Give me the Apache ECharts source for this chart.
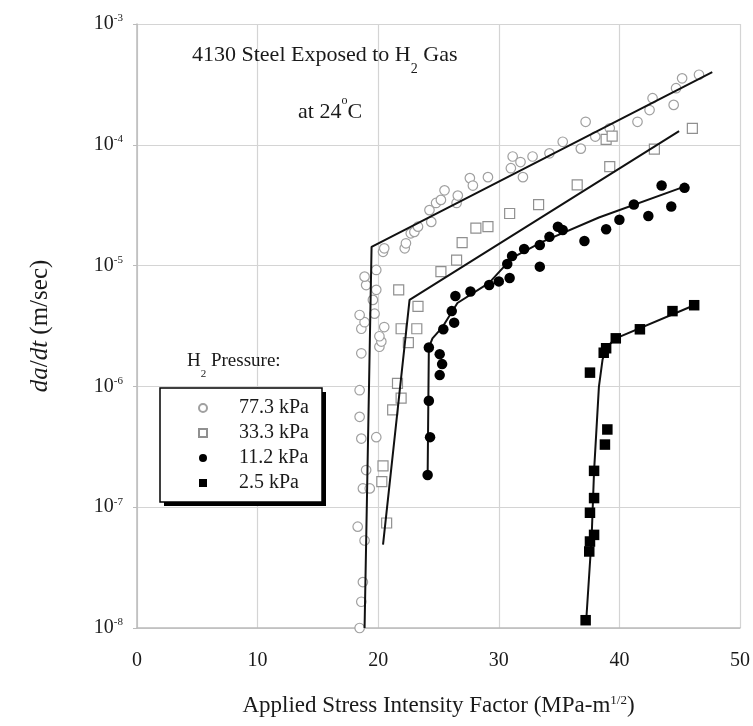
<!DOCTYPE html>
<html><head><meta charset="utf-8">
<script src="https://cdn.jsdelivr.net/npm/echarts@6/dist/echarts.min.js"></script>
<style>html,body{margin:0;padding:0;background:#fff}#c{width:753px;height:726px}</style>
</head><body><div id="c"></div>
<script>
const seriesNames = ['77.3 kPa', '33.3 kPa', '11.2 kPa', '2.5 kPa'];
const xTicks = [0, 10, 20, 30, 40, 50];
const yTickExponents = [-8, -7, -6, -5, -4, -3];

const pts77 = [[18.46,1.0e-8],[18.6,1.65e-8],[18.73,2.4e-8],[18.87,5.3e-8],[18.3,6.9e-8],[18.73,1.43e-7],[19.3,1.43e-7],[19.0,2.03e-7],[18.6,3.7e-7],[19.84,3.8e-7],[18.46,5.6e-7],[18.46,9.3e-7],[18.6,1.88e-6],[18.6,3.0e-6],[18.87,3.4e-6],[18.46,3.9e-6],[19.7,4.0e-6],[20.1,2.13e-6],[20.26,2.35e-6],[20.1,2.6e-6],[20.5,3.1e-6],[19.56,5.2e-6],[19.84,6.3e-6],[19.0,6.9e-6],[18.87,8.1e-6],[19.84,9.2e-6],[20.4,1.3e-5],[20.5,1.39e-5],[22.2,1.39e-5],[22.3,1.53e-5],[22.7,1.85e-5],[23.0,1.9e-5],[23.3,2.1e-5],[24.25,2.88e-5],[24.4,2.3e-5],[24.8,3.3e-5],[25.2,3.5e-5],[25.5,4.2e-5],[26.5,3.3e-5],[26.6,3.8e-5],[27.6,5.3e-5],[27.85,4.6e-5],[29.1,5.4e-5],[31.0,6.4e-5],[31.15,8.0e-5],[31.8,7.2e-5],[32.0,5.4e-5],[32.8,8.0e-5],[34.2,8.5e-5],[35.3,1.06e-4],[36.8,9.3e-5],[37.2,1.55e-4],[38.0,1.17e-4],[39.2,1.37e-4],[41.5,1.55e-4],[42.5,1.94e-4],[42.75,2.43e-4],[44.5,2.14e-4],[44.7,2.94e-4],[45.2,3.55e-4],[46.6,3.8e-4]];
const pts33 = [[20.7,7.4e-8],[20.3,1.63e-7],[20.4,2.2e-7],[21.2,6.4e-7],[21.9,8.0e-7],[21.6,1.06e-6],[22.5,2.3e-6],[21.9,3.0e-6],[23.2,3.0e-6],[23.3,4.6e-6],[21.7,6.3e-6],[25.2,8.9e-6],[26.5,1.11e-5],[26.96,1.55e-5],[28.1,2.04e-5],[29.1,2.1e-5],[30.9,2.7e-5],[33.3,3.2e-5],[36.5,4.65e-5],[39.2,6.6e-5],[38.9,1.11e-4],[39.4,1.18e-4],[42.9,9.2e-5],[46.05,1.37e-4]];
const pts11 = [[24.1,1.85e-7],[24.3,3.8e-7],[24.2,7.6e-7],[24.2,2.1e-6],[25.1,1.85e-6],[25.3,1.53e-6],[25.1,1.24e-6],[25.4,2.97e-6],[26.1,4.2e-6],[26.3,3.37e-6],[26.4,5.6e-6],[27.65,6.1e-6],[29.2,6.9e-6],[30.0,7.4e-6],[30.9,7.9e-6],[30.7,1.03e-5],[31.1,1.2e-5],[32.1,1.37e-5],[33.4,9.8e-6],[33.4,1.48e-5],[34.2,1.73e-5],[34.9,2.1e-5],[35.3,1.97e-5],[37.1,1.6e-5],[38.9,2.0e-5],[40.0,2.4e-5],[41.2,3.2e-5],[42.4,2.57e-5],[43.5,4.6e-5],[44.3,3.08e-5],[45.4,4.4e-5]];
const pts25 = [[37.2,1.16e-8],[37.5,4.3e-8],[37.56,5.2e-8],[37.9,5.9e-8],[37.56,9.0e-8],[37.9,1.19e-7],[37.9,2.0e-7],[38.8,3.3e-7],[39.0,4.4e-7],[37.56,1.3e-6],[38.7,1.9e-6],[38.9,2.07e-6],[39.7,2.5e-6],[41.7,2.97e-6],[44.4,4.2e-6],[46.2,4.7e-6]];

const fit77 = [[18.87,1e-8],[19.45,1.43e-5],[47.7,4.0e-4]];
const fit33 = [[20.4,4.9e-8],[22.6,5.2e-6],[44.95,1.3e-4]];
const fit11 = [[24.1,1.85e-7],[24.2,2.1e-6],[24.5,2.5e-6],[25.33,3.1e-6],[26.57,4.9e-6],[29.2,7.2e-6],[31.1,1.16e-5],[33.6,1.57e-5],[38.3,2.5e-5],[45.1,4.4e-5]];
const fit25 = [[37.25,1.16e-8],[37.7,5.7e-8],[37.9,2.0e-7],[38.3,9.9e-7],[38.6,1.66e-6],[38.9,2.09e-6],[39.7,2.5e-6],[46.2,4.7e-6]];

const FONT = '"Liberation Serif", "DejaVu Serif", serif';
const INK = '#1a1a1a';
const chart = echarts.init(document.getElementById('c'));

function fitSeries(data) {
  return { type: 'line', data: data, symbol: 'none', silent: true, z: 3,
    lineStyle: { color: '#111', width: 2 } };
}

const option = {
  backgroundColor: '#fff',
  animation: false,
  textStyle: { fontFamily: FONT },
  grid: { left: 137, right: 12, top: 24, bottom: 98 },
  xAxis: {
    type: 'value', min: xTicks[0], max: xTicks[xTicks.length - 1], interval: 10,
    name: 'Applied Stress Intensity Factor (MPa-m{s|1/2})',
    nameLocation: 'middle', nameGap: 66,
    nameTextStyle: { fontFamily: FONT, fontSize: 23, color: INK,
      rich: { s: { fontFamily: FONT, fontSize: 13, verticalAlign: 'top', lineHeight: 14, color: INK } } },
    axisLine: { show: true, lineStyle: { color: '#bbb', width: 1.5 } },
    axisTick: { show: false },
    axisLabel: { fontFamily: FONT, fontSize: 20, color: INK, margin: 23 },
    splitLine: { show: true, lineStyle: { color: '#d4d4d4', width: 1.2 } }
  },
  yAxis: {
    type: 'log', logBase: 10, min: Math.pow(10, yTickExponents[0]), max: Math.pow(10, yTickExponents[yTickExponents.length - 1]),
    name: '{i|da}{n|/}{i|dt}{n| (m/sec)}',
    nameLocation: 'middle', nameGap: 84, nameRotate: 90,
    nameTextStyle: { rich: {
      i: { fontFamily: FONT, fontSize: 25, fontStyle: 'italic', color: INK },
      n: { fontFamily: FONT, fontSize: 25, color: INK } } },
    axisLine: { show: true, lineStyle: { color: '#bbb', width: 1.5 } },
    axisTick: { show: true, inside: false, length: 4, lineStyle: { color: '#bbb' } },
    minorTick: { show: false },
    axisLabel: {
      margin: 14,
      formatter: function (v) { const e = Math.round(Math.log10(v)); return '{b|10}{s|' + e + '}'; },
      rich: {
        b: { fontFamily: FONT, fontSize: 20, color: INK, lineHeight: 22 },
        s: { fontFamily: FONT, fontSize: 11, color: INK, verticalAlign: 'top', lineHeight: 12 }
      }
    },
    splitLine: { show: true, lineStyle: { color: '#d4d4d4', width: 1.2 } }
  },
  legend: {
    orient: 'vertical', left: 160, top: 388, z: 10,
    data: seriesNames,
    padding: [10, 12, 10, 38],
    itemWidth: 8, itemHeight: 8, itemGap: 5,
    textStyle: { fontFamily: FONT, fontSize: 20, color: INK, lineHeight: 20, padding: [0, 0, 0, 27] }
  },
  graphic: [
    { type: 'rect', z: 5, shape: { x: 164, y: 392, width: 162, height: 114 }, style: { fill: '#000' } },
    { type: 'rect', z: 6, shape: { x: 160, y: 388, width: 162, height: 114 }, style: { fill: '#fff', stroke: '#000', lineWidth: 1.5 } },
    { type: 'text', left: 192, top: 44, z: 10,
      style: { text: '{a|4130 Steel Exposed to H}{u|2}{a| Gas}',
        rich: { a: { fontFamily: FONT, fontSize: 22, fill: INK, lineHeight: 32, verticalAlign: 'top' },
                u: { fontFamily: FONT, fontSize: 14, fill: INK, lineHeight: 32, verticalAlign: 'bottom' } } } },
    { type: 'text', left: 298, top: 95, z: 10,
      style: { text: '{a|at 24}{p|o}{a|C}',
        rich: { a: { fontFamily: FONT, fontSize: 22, fill: INK, lineHeight: 28, verticalAlign: 'bottom' },
                p: { fontFamily: FONT, fontSize: 12, fill: INK, lineHeight: 28, verticalAlign: 'top' } } } },
    { type: 'text', left: 187, top: 352, z: 10,
      style: { text: '{a|H}{u|2}{a| Pressure:}',
        rich: { a: { fontFamily: FONT, fontSize: 19, fill: INK, lineHeight: 28, verticalAlign: 'top' },
                u: { fontFamily: FONT, fontSize: 11, fill: INK, lineHeight: 28, verticalAlign: 'bottom' } } } }
  ],
  series: [
    { name: seriesNames[0], type: 'scatter', data: pts77, symbol: 'circle', symbolSize: 9.5, z: 2,
      itemStyle: { color: '#fff', borderColor: '#a0a0a0', borderWidth: 1.2, opacity: 1 } },
    { name: seriesNames[1], type: 'scatter', data: pts33, symbol: 'rect', symbolSize: 10, z: 2,
      itemStyle: { color: '#fff', borderColor: '#909090', borderWidth: 1.2, opacity: 1 } },
    { name: seriesNames[2], type: 'scatter', data: pts11, symbol: 'circle', symbolSize: 10.5, z: 4,
      itemStyle: { color: '#000', borderColor: '#000', borderWidth: 0, opacity: 1 } },
    { name: seriesNames[3], type: 'scatter', data: pts25, symbol: 'rect', symbolSize: 10.5, z: 4,
      itemStyle: { color: '#000', borderColor: '#000', borderWidth: 0, opacity: 1 } },
    fitSeries(fit77), fitSeries(fit33), fitSeries(fit11), fitSeries(fit25)
  ]
};
chart.setOption(option);
</script>
</body></html>
